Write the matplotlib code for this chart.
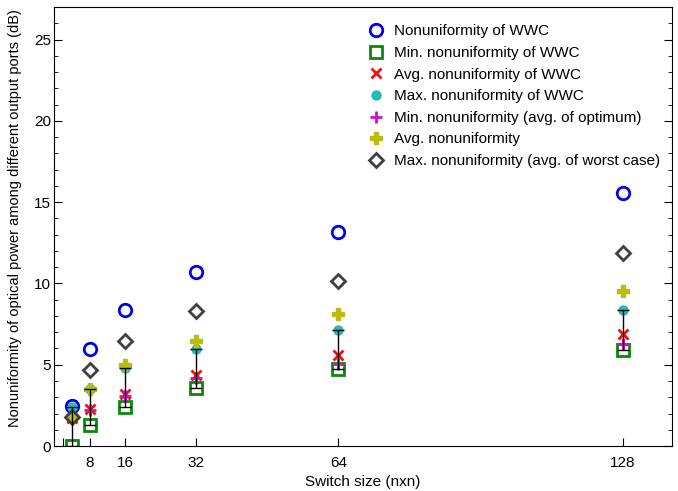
import numpy as np
import matplotlib
matplotlib.use('Agg')
import matplotlib.pyplot as plt

plt.rcParams['font.family'] = ['Liberation Sans', 'DejaVu Sans']

# switch sizes (nxn)
sizes = [4, 8, 16, 32, 64, 128]

# values (dB)
wwc = [2.45, 5.96, 8.39, 10.72, 13.17, 15.55]
wwc_min = [0.0, 1.29, 2.41, 3.58, 4.76, 5.88]
wwc_avg = [1.75, 2.25, 3.19, 4.35, 5.58, 6.90]
wwc_max = [2.41, 3.50, 4.80, 5.98, 7.15, 8.37]
opt_min = [1.70, 2.20, 3.06, 4.19, 5.07, 6.29]
avg_nonu = [1.76, 3.53, 4.96, 6.43, 8.13, 9.52]
worst_max = [1.76, 4.66, 6.45, 8.33, 10.13, 11.85]

xticks = [2, 8, 16, 32, 64, 128]
xticklabels = ['', '8', '16', '32', '64', '128']

fig = plt.figure(figsize=(6.78, 4.91), dpi=100)
ax = fig.add_axes([0.0796, 0.0916, 0.9114, 0.8941])

ax.plot(sizes, wwc, 'o', ls='none', mfc='none', mec='#0000ee', mew=2, ms=9,
        label='Nonuniformity of WWC')
ax.plot(sizes, wwc_min, 's', ls='none', mfc='none', mec='#0a8a0a', mew=2, ms=8.5,
        label='Min. nonuniformity of WWC')
ax.plot(sizes, wwc_avg, 'x', ls='none', color='#ee1111', mew=2, ms=7,
        label='Avg. nonuniformity of WWC')
ax.plot(sizes, wwc_max, 'o', ls='none', color='#22bbbb', ms=6.5,
        label='Max. nonuniformity of WWC')
ax.plot(sizes, opt_min, '+', ls='none', color='#cc11cc', mew=2, ms=8,
        label='Min. nonuniformity (avg. of optimum)')
ax.plot(sizes, avg_nonu, 'P', ls='none', color='#bbbb11', mec='#bbbb11', ms=8.5,
        label='Avg. nonuniformity')
ax.plot(sizes, worst_max, 'D', ls='none', mfc='none', mec='#404040', mew=2, ms=7,
        label='Max. nonuniformity (avg. of worst case)')

# error bar from min to max of WWC
lo = np.array(wwc_max) - np.array(wwc_min)
ax.errorbar(sizes, wwc_max, yerr=[lo, np.zeros(len(sizes))], fmt='none',
            ecolor='black', elinewidth=1, capsize=4, capthick=1)

ax.set_xlim(0, 139)
ax.set_ylim(0, 27)
ax.set_xticks(xticks)
ax.set_xticklabels(xticklabels)
ax.set_yticks([0, 5, 10, 15, 20, 25])
ax.set_yticks(np.arange(0, 27, 1), minor=True)
ax.tick_params(axis='both', direction='in', labelsize=11, right=True, length=6, pad=2)
ax.tick_params(axis='x', pad=7)
ax.tick_params(axis='y', which='minor', direction='in', right=True, length=3)

ax.set_xlabel('Switch size (nxn)', fontsize=11, labelpad=4)
ax.set_ylabel('Nonuniformity of optical power among different output ports (dB)',
              fontsize=10.5, labelpad=9)
ax.yaxis.set_label_coords(-0.051, 0.52)

ax.legend(loc='upper right', frameon=False, fontsize=11, handletextpad=0.6,
          labelspacing=0.5, borderaxespad=0.3, bbox_to_anchor=(0.998, 0.985),
          handlelength=1.2)

fig.savefig('out.png', dpi=100)
